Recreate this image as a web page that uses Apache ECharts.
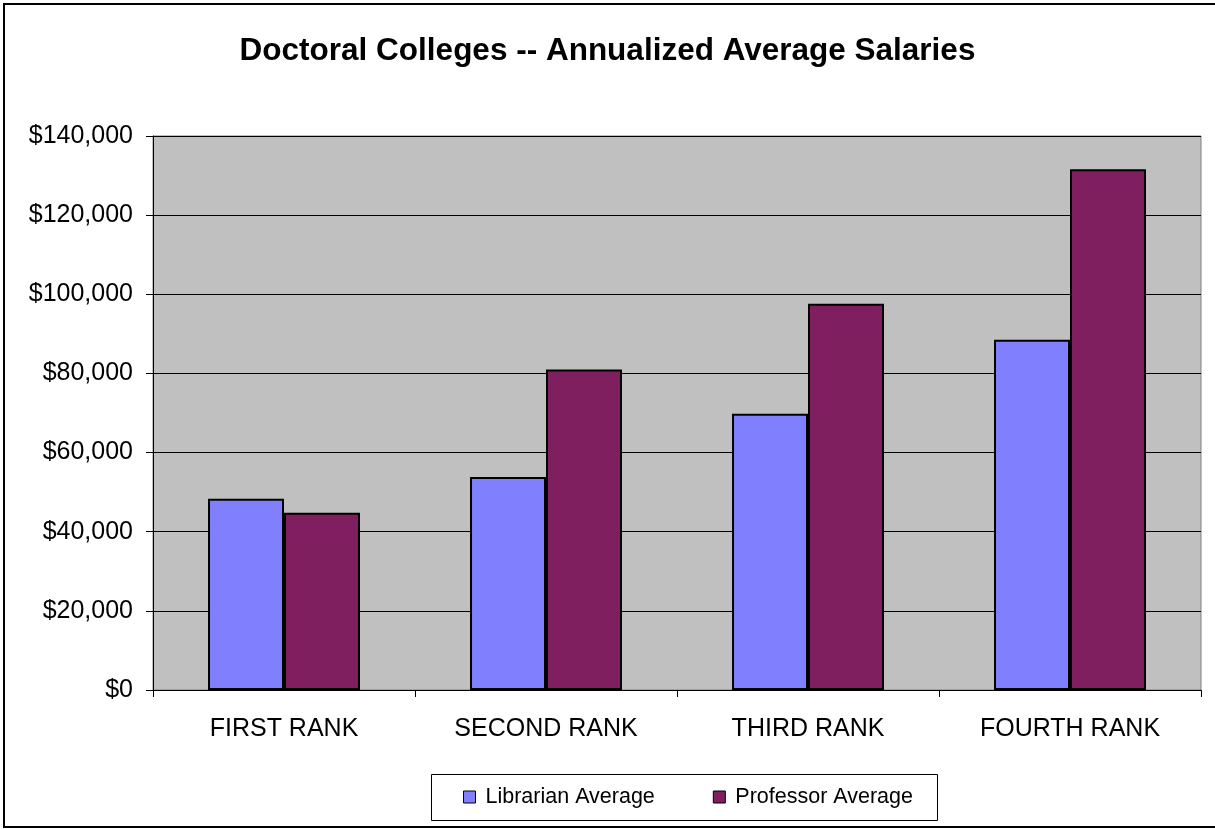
<!DOCTYPE html>
<html>
<head>
  <meta charset="utf-8">
  <title>Doctoral Colleges -- Annualized Average Salaries</title>
  <style>
    html, body { margin: 0; padding: 0; background: #fff; }
    #main { width: 1215px; height: 829px; }
  </style>
</head>
<body>
  <div id="main"></div>
  <script src="https://cdn.jsdelivr.net/npm/echarts@6/dist/echarts.min.js"></script>
  <script>
  // categories and averages
  const ranks = ['FIRST RANK', 'SECOND RANK', 'THIRD RANK', 'FOURTH RANK'];
  const librarianAvg = [48300, 53800, 69800, 88500];
  const professorAvg = [44800, 81000, 97600, 131600];

  const font = 'Arial, "Liberation Sans", sans-serif';

  const fmtMoney = v => '$' + v.toLocaleString('en-US');

  const option = {
    animation: false,
    textStyle: { fontFamily: font, color: '#000' },
    title: {
      text: 'Doctoral Colleges -- Annualized Average Salaries',
      left: 'center',
      top: 30,
      textStyle: { fontFamily: font, fontSize: 31.5, fontWeight: 'bold', color: '#000' }
    },
    legend: {
      left: 463,
      top: 786,
      padding: 0,
      itemWidth: 12,
      itemHeight: 12,
      itemGap: 58,
      icon: 'rect',
      itemStyle: { borderColor: '#000', borderWidth: 1 },
      textStyle: { fontFamily: font, fontSize: 21.5, color: '#000', padding: [0, 0, 0, 5] },
      data: ['Librarian Average', 'Professor Average']
    },
    grid: {
      left: 153,
      right: 14,
      top: 136,
      bottom: 139,
      show: true,
      backgroundColor: '#c0c0c0',
      borderColor: '#808080',
      borderWidth: 1
    },
    xAxis: {
      type: 'category',
      data: ranks,
      axisLine: { lineStyle: { color: '#000', width: 1 } },
      axisTick: { show: true, length: 7, lineStyle: { color: '#000' } },
      axisLabel: { fontFamily: font, fontSize: 25, color: '#000', margin: 27 }
    },
    yAxis: {
      type: 'value',
      min: 0,
      max: 140000,
      interval: 20000,
      axisLine: { show: true, lineStyle: { color: '#000', width: 1 } },
      axisTick: { show: true, length: 7, lineStyle: { color: '#000' } },
      axisLabel: { fontFamily: font, fontSize: 25, color: '#000', margin: 20, formatter: fmtMoney },
      splitLine: { lineStyle: { color: '#000', width: 1 } }
    },
    series: [
      {
        name: 'Librarian Average',
        type: 'bar',
        data: librarianAvg,
        barGap: '0%',
        barCategoryGap: '42%',
        itemStyle: { color: '#8080ff', borderColor: '#000', borderWidth: 2 }
      },
      {
        name: 'Professor Average',
        type: 'bar',
        data: professorAvg,
        barGap: '0%',
        barCategoryGap: '42%',
        itemStyle: { color: '#801f5f', borderColor: '#000', borderWidth: 2 }
      }
    ],
    graphic: [
      {
        type: 'rect',
        z: -10,
        shape: { x: 4, y: 4, width: 1230, height: 823 },
        style: { fill: 'none', stroke: '#000', lineWidth: 2 }
      },
      {
        type: 'rect',
        shape: { x: 431.5, y: 774.5, width: 506, height: 46 },
        style: { fill: 'none', stroke: '#000', lineWidth: 1 }
      }
    ]
  };

  echarts.init(document.getElementById('main')).setOption(option);
  </script>
</body>
</html>
